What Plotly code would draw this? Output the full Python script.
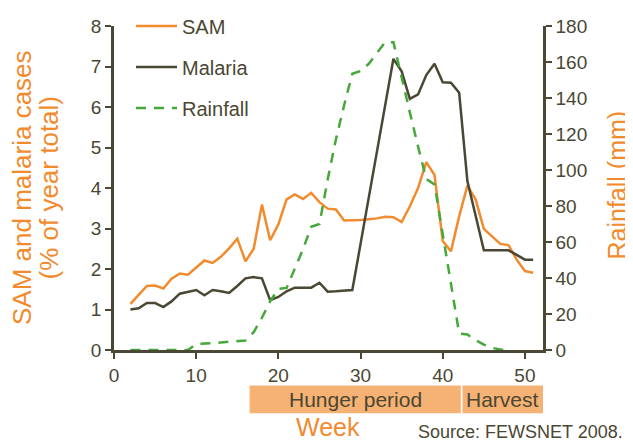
import plotly.graph_objects as go

# ---- data ----
weeks = list(range(2, 52))
sam = [1.14, 1.36, 1.58, 1.59, 1.52, 1.76, 1.89, 1.86, 2.04, 2.21,
       2.15, 2.30, 2.51, 2.75, 2.19, 2.50, 3.59, 2.71, 3.10, 3.72,
       3.84, 3.73, 3.88, 3.65, 3.49, 3.47, 3.20, 3.20, 3.21, 3.23,
       3.25, 3.29, 3.28, 3.16, 3.55, 4.00, 4.64, 4.32, 2.69, 2.44,
       3.30, 4.06, 3.72, 2.99, 2.80, 2.62, 2.59, 2.23, 1.95, 1.91]
malaria = [1.00, 1.03, 1.16, 1.16, 1.06, 1.20, 1.39, 1.43, 1.48, 1.35,
           1.48, 1.45, 1.41, 1.58, 1.77, 1.80, 1.77, 1.23, 1.31, 1.45,
           1.54, 1.54, 1.54, 1.66, 1.44, 1.45, 1.46, 1.48, 2.62, 3.76,
           4.91, 6.05, 7.19, 6.88, 6.20, 6.31, 6.79, 7.07, 6.61, 6.60,
           6.35, 4.17, 3.30, 2.46, 2.46, 2.46, 2.46, 2.35, 2.23, 2.23]
rain_weeks = list(range(2, 49))
rainfall = [0, 0, 0, 0, 0, 0, 0, 0, 3.4, 3.4,
            3.8, 4.2, 4.6, 5.0, 5.3, 9.9, 17.9, 27.1, 34.0, 34.5,
            45.0, 56.0, 68.5, 70.0, 94.7, 117.0, 136.0, 153.5, 155.0, 159.0,
            165.0, 171.0, 171.0, 151.0, 132.0, 113.0, 95.0, 92.0, 65.0, 38.0,
            9.2, 8.6, 5.5, 3.0, 1.2, 0.3, 0]
period_names = ["Hunger period", "Harvest"]
period_start = [16.5, 42.4]
period_end = [42.2, 52.2]
x_ticks = [0, 10, 20, 30, 40, 50]
y_left_ticks = list(range(0, 9))
y_right_ticks = list(range(0, 181, 20))

# ---- styles ----
DARK = "#4a4733"
ORANGE = "#f28a2e"
GREEN = "#46a83a"
BAND = "#f6b274"
FONT = "Liberation Sans, Arial, sans-serif"

# the figure div sits 8px in from the page corner (default body margin)
OFF = 8
W, H = 633 - OFF, 442 - OFF
PL, PT = 114, 25.5          # plot-area left / top in page pixels
PW, PH = 429, 325           # plot-area size
ML, MT = PL - OFF, PT - OFF
MR, MB = W - ML - PW, H - MT - PH


def px_x(px):
    return (px - PL) / PW


def px_y(py):
    return (PT + PH - py) / PH


fig = go.Figure()
fig.add_trace(go.Scatter(x=weeks, y=sam, name="SAM", mode="lines",
                         line=dict(color=ORANGE, width=2.5), legendgroup="a"))
fig.add_trace(go.Scatter(x=weeks, y=malaria, name="Malaria", mode="lines",
                         line=dict(color=DARK, width=2.5), legendgroup="b"))
fig.add_trace(go.Scatter(x=rain_weeks, y=rainfall, name="Rainfall", mode="lines",
                         line=dict(color=GREEN, width=2.5, dash="10px,8px"),
                         yaxis="y2", legendgroup="c"))

axis_common = dict(showline=True, linecolor=DARK, linewidth=2.5, ticks="outside",
                   ticklen=6, tickwidth=2, tickcolor=DARK, showgrid=False,
                   zeroline=False, tickfont=dict(size=19, color=DARK, family=FONT))

shapes = []
annotations = []
for name, s, e in zip(period_names, period_start, period_end):
    shapes.append(dict(type="rect", xref="x", yref="paper", x0=s, x1=e,
                       y0=px_y(414), y1=px_y(386), fillcolor=BAND, line=dict(width=0),
                       layer="above"))
    annotations.append(dict(x=(s + e) / 2, y=px_y(400), xref="x", yref="paper",
                            text=name, showarrow=False, xanchor="center", yanchor="middle",
                            font=dict(size=21, color=DARK, family=FONT)))

annotations += [
    dict(x=px_x(22), y=px_y(188), xref="paper", yref="paper", text="SAM and malaria cases",
         textangle=-90, showarrow=False, xanchor="center", yanchor="middle",
         font=dict(size=26, color=ORANGE, family=FONT)),
    dict(x=px_x(48.5), y=px_y(188), xref="paper", yref="paper", text="(% of year total)",
         textangle=-90, showarrow=False, xanchor="center", yanchor="middle",
         font=dict(size=26, color=ORANGE, family=FONT)),
    dict(x=px_x(617.5), y=px_y(185), xref="paper", yref="paper", text="Rainfall (mm)",
         textangle=-90, showarrow=False, xanchor="center", yanchor="middle",
         font=dict(size=25, color=ORANGE, family=FONT)),
    dict(x=px_x(328), y=px_y(428), xref="paper", yref="paper", text="Week",
         showarrow=False, xanchor="center", yanchor="middle",
         font=dict(size=25, color=ORANGE, family=FONT)),
    dict(x=px_x(416), y=px_y(433), xref="paper", yref="paper", text="Source: FEWSNET 2008.",
         showarrow=False, xanchor="left", yanchor="middle",
         font=dict(size=18, color=DARK, family=FONT)),
]

fig.update_layout(
    width=W, height=H,
    margin=dict(l=ML, r=MR, t=MT, b=MB, pad=0, autoexpand=False),
    paper_bgcolor="white", plot_bgcolor="white",
    font=dict(family=FONT, color=DARK),
    xaxis=dict(range=[0, 52.2], tickvals=x_ticks, **axis_common),
    yaxis=dict(range=[0, 8], tickvals=y_left_ticks, **axis_common),
    yaxis2=dict(range=[0, 180], tickvals=y_right_ticks, overlaying="y", side="right",
                **axis_common),
    legend=dict(x=px_x(131), y=px_y(6), xanchor="left", yanchor="top",
                font=dict(size=20, color=DARK, family=FONT), itemwidth=41,
                tracegroupgap=12, bgcolor="rgba(0,0,0,0)"),
    shapes=shapes,
    annotations=annotations,
)

fig.write_html("out.html")
